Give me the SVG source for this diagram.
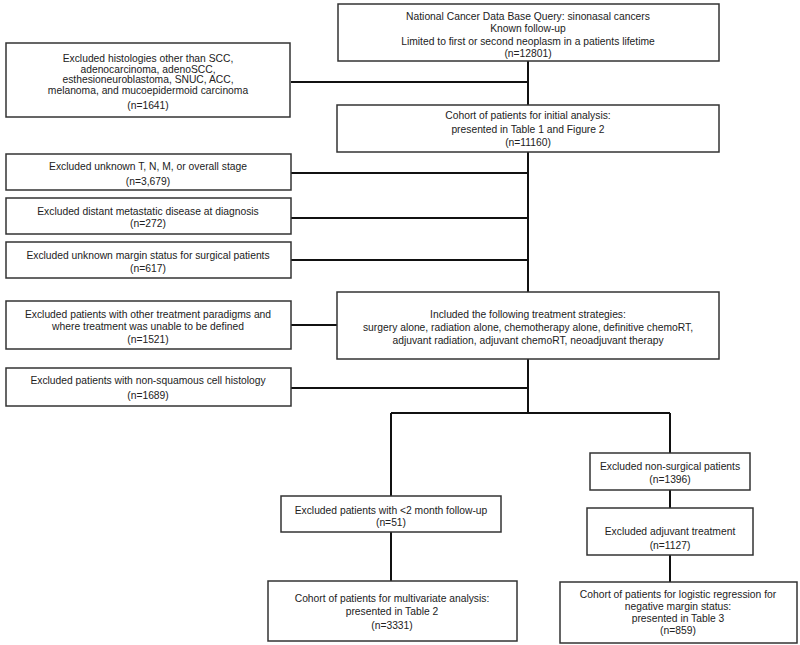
<svg xmlns="http://www.w3.org/2000/svg" width="800" height="645" viewBox="0 0 800 645">
<style>
.box{fill:#fff;stroke:#333;stroke-width:1.5}
.t{font-family:"Liberation Sans",Arial,sans-serif;font-size:10.3px;fill:#222;text-anchor:middle}
.c{fill:none;stroke:#111;stroke-width:2}
</style>
<rect width="800" height="645" fill="#fff"/>
<g id="connectors">
<path class="c" d="M528 61V105M528 152V292M528 359V413M291 82H528M291 173H528M291 218H528M291 260H528M291 325H337M291 388H528M391 413H670M391 413V496M670 413V453M391 532V581M670 490V508M670 555V582"/>
</g>
<g id="n1"><rect class="box" x="338" y="4" width="381" height="57"/>
<text class="t"><tspan x="528" y="20">National Cancer Data Base Query: sinonasal cancers</tspan><tspan x="528" y="32">Known follow-up</tspan><tspan x="528" y="45">Limited to first or second neoplasm in a patients lifetime</tspan><tspan x="528" y="57">(n=12801)</tspan></text></g>
<g id="n2"><rect class="box" x="6" y="43" width="284" height="74"/>
<text class="t"><tspan x="148" y="62">Excluded histologies other than SCC,</tspan><tspan x="148" y="72.5">adenocarcinoma, adenoSCC,</tspan><tspan x="148" y="83">esthesioneuroblastoma, SNUC, ACC,</tspan><tspan x="148" y="93.5">melanoma, and mucoepidermoid carcinoma</tspan><tspan x="148" y="109">(n=1641)</tspan></text></g>
<g id="n3"><rect class="box" x="337" y="105" width="382" height="47"/>
<text class="t"><tspan x="528" y="119">Cohort of patients for initial analysis:</tspan><tspan x="528" y="133">presented in Table 1 and Figure 2</tspan><tspan x="528" y="146">(n=11160)</tspan></text></g>
<g id="n4"><rect class="box" x="6" y="154" width="285" height="36"/>
<text class="t"><tspan x="148" y="170">Excluded unknown T, N, M, or overall stage</tspan><tspan x="148" y="185">(n=3,679)</tspan></text></g>
<g id="n5"><rect class="box" x="6" y="198" width="285" height="36"/>
<text class="t"><tspan x="148" y="215">Excluded distant metastatic disease at diagnosis</tspan><tspan x="148" y="227">(n=272)</tspan></text></g>
<g id="n6"><rect class="box" x="6" y="242" width="285" height="36"/>
<text class="t"><tspan x="148" y="258.5">Excluded unknown margin status for surgical patients</tspan><tspan x="148" y="271.5">(n=617)</tspan></text></g>
<g id="n7"><rect class="box" x="6" y="301" width="285" height="48"/>
<text class="t"><tspan x="148" y="317.5">Excluded patients with other treatment paradigms and</tspan><tspan x="148" y="330">where treatment was unable to be defined</tspan><tspan x="148" y="343">(n=1521)</tspan></text></g>
<g id="n8"><rect class="box" x="337" y="292" width="382" height="67"/>
<text class="t"><tspan x="528" y="318">Included the following treatment strategies:</tspan><tspan x="528" y="331">surgery alone, radiation alone, chemotherapy alone, definitive chemoRT,</tspan><tspan x="528" y="343.5">adjuvant radiation, adjuvant chemoRT, neoadjuvant therapy</tspan></text></g>
<g id="n9"><rect class="box" x="6" y="368" width="285" height="38"/>
<text class="t"><tspan x="148" y="384">Excluded patients with non-squamous cell histology</tspan><tspan x="148" y="398.5">(n=1689)</tspan></text></g>
<g id="n10"><rect class="box" x="590" y="453" width="160" height="37"/>
<text class="t"><tspan x="670" y="469.5">Excluded non-surgical patients</tspan><tspan x="670" y="482.5">(n=1396)</tspan></text></g>
<g id="n11"><rect class="box" x="281" y="496" width="220" height="36"/>
<text class="t"><tspan x="391" y="513.5">Excluded patients with &lt;2 month follow-up</tspan><tspan x="391" y="526">(n=51)</tspan></text></g>
<g id="n12"><rect class="box" x="587" y="508" width="166" height="47"/>
<text class="t"><tspan x="670" y="535">Excluded adjuvant treatment</tspan><tspan x="670" y="548.5">(n=1127)</tspan></text></g>
<g id="n13"><rect class="box" x="268" y="581" width="249" height="60"/>
<text class="t"><tspan x="392" y="602">Cohort of patients for multivariate analysis:</tspan><tspan x="392" y="615">presented in Table 2</tspan><tspan x="392" y="629">(n=3331)</tspan></text></g>
<g id="n14"><rect class="box" x="560" y="582" width="237" height="61"/>
<text class="t"><tspan x="678" y="597.5">Cohort of patients for logistic regression for</tspan><tspan x="678" y="610">negative margin status:</tspan><tspan x="678" y="621.5">presented in Table 3</tspan><tspan x="678" y="633.5">(n=859)</tspan></text></g>
</svg>
